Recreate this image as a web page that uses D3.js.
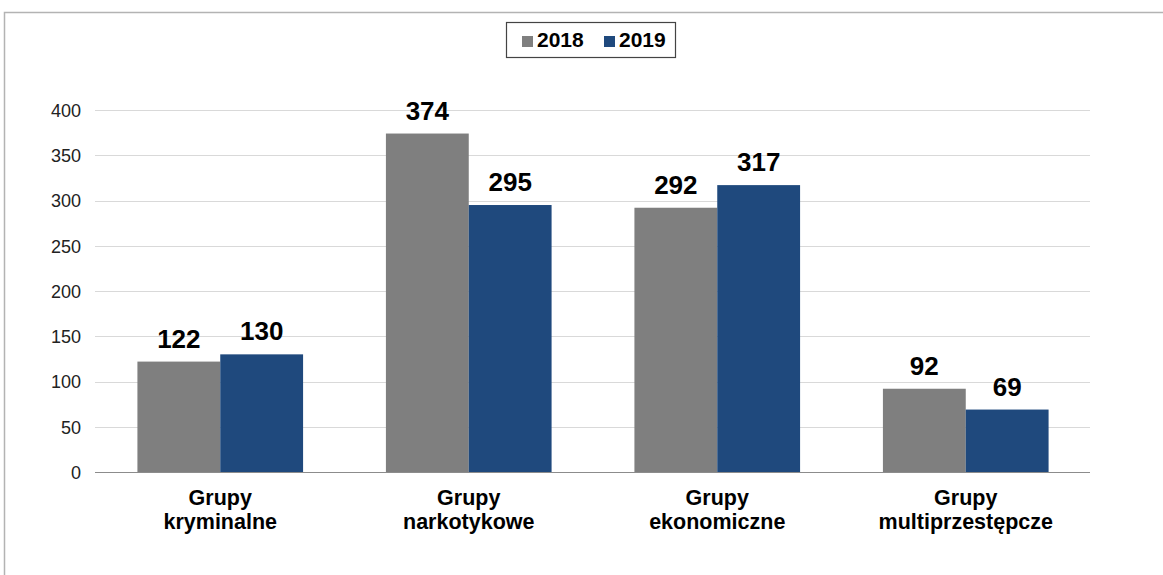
<!DOCTYPE html>
<html><head><meta charset="utf-8">
<script src="https://cdnjs.cloudflare.com/ajax/libs/d3/7.8.5/d3.min.js"></script>
<style>body{margin:0;background:#fff}svg{display:block}</style>
</head><body>
<script>
const categories = [["Grupy","kryminalne"],["Grupy","narkotykowe"],["Grupy","ekonomiczne"],["Grupy","multiprzestępcze"]];
const seriesNames = ["2018","2019"];
const values2018 = [122, 374, 292, 92];
const values2019 = [130, 295, 317, 69];
const yTicks = [0,50,100,150,200,250,300,350,400];
const colors = ["#7f7f7f","#1f497d"];

(function(){
const W=1163,H=575;
const svg=d3.select("body").append("svg").attr("width",W).attr("height",H);
const font="Liberation Sans, Arial, sans-serif";

// outer frame
svg.append("path").attr("d",`M4.5,${H} L4.5,12.5 L${W},12.5`).attr("fill","none").attr("stroke","#b3b3b3").attr("stroke-width",1.5);

const pL=96,pR=1090,pT=110,pB=472;
const y=d3.scaleLinear().domain([0,400]).range([pB,pT]);
const x0=d3.scaleBand().domain(d3.range(categories.length)).range([pL,pR]).paddingInner(0).paddingOuter(0);
const x1=d3.scaleBand().domain(seriesNames).range([0,x0.bandwidth()]).paddingInner(0).paddingOuter(0.5);

// grid
svg.append("g").selectAll("line").data(yTicks.filter(d=>d>0)).join("line")
 .attr("x1",pL-1).attr("x2",pR).attr("y1",d=>Math.round(y(d))+0.5).attr("y2",d=>Math.round(y(d))+0.5)
 .attr("stroke","#d9d9d9").attr("stroke-width",1);

// y axis labels
const ya=svg.append("g").attr("transform",`translate(${pL},0)`).call(d3.axisLeft(y).tickValues(yTicks).tickSize(0).tickPadding(15));
ya.select(".domain").remove();
ya.selectAll("text").attr("font-family",font).attr("font-size",18).attr("fill","#222").attr("dy","0.36em");

const series=[values2018,values2019];
const groups=svg.append("g").selectAll("g").data(categories).join("g").attr("transform",(d,i)=>`translate(${x0(i)},0)`);
groups.selectAll("rect").data((d,i)=>series.map((s,k)=>({k,v:s[i]}))).join("rect")
 .attr("x",d=>x1(seriesNames[d.k])).attr("width",x1.bandwidth())
 .attr("y",d=>y(d.v)).attr("height",d=>pB-y(d.v))
 .attr("fill",d=>colors[d.k]);
groups.selectAll("text.val").data((d,i)=>series.map((s,k)=>({k,v:s[i]}))).join("text").attr("class","val")
 .attr("x",d=>x1(seriesNames[d.k])+x1.bandwidth()/2).attr("y",d=>y(d.v)-14)
 .attr("text-anchor","middle").attr("font-family",font).attr("font-weight","bold").attr("font-size",26).attr("fill","#000")
 .text(d=>d.v);

// baseline
svg.append("line").attr("x1",pL-1).attr("x2",pR).attr("y1",pB+0.5).attr("y2",pB+0.5).attr("stroke","#8c8c8c").attr("stroke-width",1.2);

// category labels
groups.each(function(d){
  const t=d3.select(this).append("text").attr("text-anchor","middle").attr("font-family",font).attr("font-weight","bold").attr("font-size",21.5).attr("fill","#000");
  d.forEach((line,j)=>t.append("tspan").attr("x",x0.bandwidth()/2).attr("y",505+j*24).text(line));
});

// legend
const lg=svg.append("g");
lg.append("rect").attr("x",506.5).attr("y",22.5).attr("width",169).attr("height",35).attr("fill","#fff").attr("stroke","#444").attr("stroke-width",1.2);
const lx=[522,604];
seriesNames.forEach((s,k)=>{
  lg.append("rect").attr("x",lx[k]).attr("y",36).attr("width",11).attr("height",11).attr("fill",colors[k]);
  lg.append("text").attr("x",lx[k]+15).attr("y",47).attr("font-family",font).attr("font-weight","bold").attr("font-size",21).attr("fill","#000").text(s);
});
})();
</script>
</body></html>
